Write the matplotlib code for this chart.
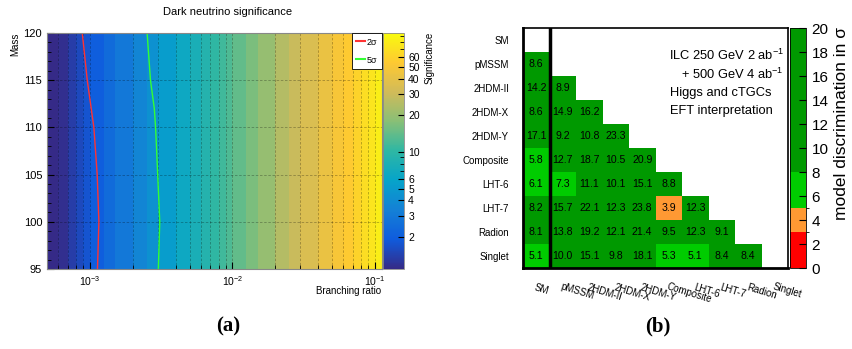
import numpy as np
import matplotlib
matplotlib.use("Agg")
import matplotlib.pyplot as plt
from matplotlib.colors import LinearSegmentedColormap, LogNorm, ListedColormap, BoundaryNorm
from matplotlib.ticker import MultipleLocator, FixedLocator, FixedFormatter, NullFormatter, LogLocator

plt.rcParams['font.family'] = ['Liberation Sans', 'DejaVu Sans']
plt.rcParams['mathtext.fontset'] = 'custom'
plt.rcParams['mathtext.rm'] = 'Liberation Sans'
plt.rcParams['mathtext.it'] = 'Liberation Sans:italic'

# ---- panel (a) data: significance per branching-ratio bin
br_edges = [5e-4, 6e-4, 7e-4, 8e-4, 9e-4, 1e-3, 1.25e-3, 1.5e-3, 2e-3, 2.5e-3, 3e-3,
            4e-3, 5e-3, 6e-3, 7e-3, 8e-3, 9e-3, 1e-2, 1.25e-2, 1.5e-2, 2e-2, 2.5e-2,
            3e-2, 4e-2, 5e-2, 6e-2, 7e-2, 8e-2, 9e-2, 1e-1, 1.12e-1]
signif = [1.1, 1.15, 1.35, 1.55, 1.75, 2.0, 2.4, 2.9, 3.6, 4.4, 5.3, 6.5, 7.8, 9.0,
          10.2, 11.3, 12.4, 14.0, 16.5, 20.0, 25.0, 29.0, 35.0, 42.0, 49.0, 55.0,
          61.0, 68.0, 74.0, 82.0]
mass_edges = [95, 120]

# contour lines
mass_2s = [95, 100, 105, 110, 115, 120]
br_2s = [1.13e-3, 1.156e-3, 1.125e-3, 1.066e-3, 9.58e-4, 8.84e-4]
mass_5s = [95, 100, 105, 110, 112, 115, 120]
br_5s = [3.02e-3, 3.09e-3, 2.99e-3, 2.89e-3, 2.83e-3, 2.66e-3, 2.52e-3]

# ---- panel (b) data: model discrimination matrix
models = ["SM", "pMSSM", "2HDM-II", "2HDM-X", "2HDM-Y", "Composite",
          "LHT-6", "LHT-7", "Radion", "Singlet"]
disc_rows = [
    [],
    [8.6],
    [14.2, 8.9],
    [8.6, 14.9, 16.2],
    [17.1, 9.2, 10.8, 23.3],
    [5.8, 12.7, 18.7, 10.5, 20.9],
    [6.1, 7.3, 11.1, 10.1, 15.1, 8.8],
    [8.2, 15.7, 22.1, 12.3, 23.8, 3.9, 12.3],
    [8.1, 13.8, 19.2, 12.1, 21.4, 9.5, 12.3, 9.1],
    [5.1, 10.0, 15.1, 9.8, 18.1, 5.3, 5.1, 8.4, 8.4],
]

W, H = 852, 349
fig = plt.figure(figsize=(W / 100, H / 100), dpi=100)


def rect(x0, y0, x1, y1):
    return [x0 / W, 1 - y1 / H, (x1 - x0) / W, (y1 - y0) / H]


# ROOT kBird palette
stops = [0.0, 0.125, 0.25, 0.375, 0.5, 0.625, 0.75, 0.875, 1.0]
red = [0.2082, 0.0592, 0.0780, 0.0232, 0.1802, 0.5301, 0.8186, 0.9956, 0.9764]
green = [0.1664, 0.3599, 0.5041, 0.6419, 0.7178, 0.7492, 0.7328, 0.7862, 0.9832]
blue = [0.5293, 0.8684, 0.8385, 0.7914, 0.6425, 0.4662, 0.3499, 0.1968, 0.0539]
bird = LinearSegmentedColormap.from_list("bird", list(zip(stops, zip(red, green, blue))))

# ================= panel (a)
ax1 = fig.add_axes(rect(47, 33, 382, 269))
Z = np.tile(np.array(signif), (len(mass_edges) - 1, 1))
norm = LogNorm(vmin=1.09, vmax=95)
mesh = ax1.pcolormesh(br_edges, mass_edges, Z, cmap=bird, norm=norm, shading='flat')
ax1.set_xscale('log')
ax1.set_xlim(br_edges[0], br_edges[-1])
ax1.set_ylim(95, 120)
ax1.plot(br_2s, mass_2s, color='#ff3333', lw=1.0)
ax1.plot(br_5s, mass_5s, color='#33ff33', lw=1.0)
ax1.grid(which='both', axis='x', color='k', alpha=0.3, lw=0.6, ls=(0, (3, 2)))
ax1.grid(which='major', axis='y', color='k', alpha=0.3, lw=0.6, ls=(0, (3, 2)))
ax1.yaxis.set_major_locator(MultipleLocator(5))
ax1.yaxis.set_minor_locator(MultipleLocator(1))
ax1.xaxis.set_minor_locator(LogLocator(base=10, subs=np.arange(2, 10)))
ax1.xaxis.set_minor_formatter(NullFormatter())
ax1.tick_params(which='both', direction='in', labelsize=8, top=False, right=False)
ax1.tick_params(which='major', length=5)
ax1.tick_params(which='minor', length=3)
ax1.tick_params(axis='x', labelsize=7.5, pad=4)
for s in ax1.spines.values():
    s.set_color('#888888')
    s.set_linewidth(0.8)

leg = ax1.legend([plt.Line2D([], [], color='#ff3333', lw=1.5), plt.Line2D([], [], color='#33ff33', lw=1.5)],
                 ['2σ', '5σ'], loc='upper right', fontsize=6.5, handlelength=1.0, handletextpad=0.2,
                 borderaxespad=0.0, frameon=True, fancybox=False, labelspacing=1.0, borderpad=0.5)
leg.get_frame().set_edgecolor('black')
leg.get_frame().set_linewidth(0.6)
leg.get_frame().set_alpha(1)

cax1 = fig.add_axes(rect(383, 33, 404, 269))
cb1 = fig.colorbar(mesh, cax=cax1)
cb1.outline.set_edgecolor('#888888')
cb1.outline.set_linewidth(0.6)
cax1.yaxis.set_major_locator(FixedLocator([2, 3, 4, 5, 6, 10, 20, 30, 40, 50, 60]))
cax1.yaxis.set_major_formatter(FixedFormatter(['2', '3', '4', '5', '6', '10', '20', '30', '40', '50', '60']))
cax1.yaxis.set_minor_locator(FixedLocator([7, 8, 9, 70, 80, 90]))
cax1.yaxis.set_minor_formatter(NullFormatter())
cax1.tick_params(which='both', direction='in', labelsize=7.5, right=True, left=False, pad=3)
cax1.tick_params(which='major', length=4)
cax1.tick_params(which='minor', length=3)

fig.text(228 / W, 1 - 12 / H, 'Dark neutrino significance', ha='center', va='center', fontsize=8)
fig.text(15 / W, 1 - 33 / H, 'Mass', rotation=90, ha='center', va='top', fontsize=7)
fig.text(381 / W, 1 - 291 / H, 'Branching ratio', ha='right', va='center', fontsize=7)
fig.text(430 / W, 1 - 32 / H, 'Significance', rotation=90, ha='center', va='top', fontsize=7)
fig.text(228 / W, 1 - 326 / H, '(a)', ha='center', va='center', fontsize=15,
         fontweight='bold', family='Liberation Serif')

# ================= panel (b)
n = len(models)
M = np.full((n, n), np.nan)
for i, row in enumerate(disc_rows):
    for j, v in enumerate(row):
        M[i, j] = v

ax2 = fig.add_axes(rect(523, 28, 788, 268))
cmap2 = ListedColormap(['#ff0000', '#ff9933', '#00cc00', '#009900'])
bnorm = BoundaryNorm([0, 3, 5, 8, 20], cmap2.N)
im = ax2.pcolormesh(np.arange(n + 1), np.arange(n + 1), np.ma.masked_invalid(M),
                    cmap=cmap2, norm=bnorm)
ax2.set_xlim(0, n)
ax2.set_ylim(n, 0)
for i, row in enumerate(disc_rows):
    for j, v in enumerate(row):
        ax2.text(j + 0.5, i + 0.52, f'{v:.1f}', ha='center', va='center', fontsize=7.6)
ax2.axvline(1, color='black', lw=2.5)
ax2.set_yticks(np.arange(n) + 0.5)
ax2.set_yticklabels(models, fontsize=7)
ax2.set_xticks(np.arange(n) + 0.5)
ax2.set_xticklabels(models, fontsize=7, rotation=-17, ha='left', va='top', rotation_mode='anchor')
ax2.tick_params(length=0, pad=10)
ax2.tick_params(axis='x', pad=10)
for s in ax2.spines.values():
    s.set_linewidth(1.2)
ax2.spines['bottom'].set_linewidth(2)
ax2.spines['left'].set_linewidth(2)

ax2.text(0.985, 0.885, 'ILC 250 GeV 2 ab$^{-1}$', transform=ax2.transAxes, ha='right', va='center', fontsize=9.3)
ax2.text(0.985, 0.805, '+ 500 GeV 4 ab$^{-1}$', transform=ax2.transAxes, ha='right', va='center', fontsize=9.3)
ax2.text(0.555, 0.73, 'Higgs and cTGCs', transform=ax2.transAxes, ha='left', va='center', fontsize=9.3)
ax2.text(0.555, 0.655, 'EFT interpretation', transform=ax2.transAxes, ha='left', va='center', fontsize=9.3)

cax2 = fig.add_axes(rect(790, 28, 806, 268))
cb2 = fig.colorbar(im, cax=cax2, ticks=np.arange(0, 21, 2), spacing='proportional')
cb2.outline.set_linewidth(0.6)
cax2.tick_params(direction='in', length=5, labelsize=11, pad=4)
fig.text(841 / W, 1 - 27 / H, 'model discrimination in σ', rotation=90, ha='center', va='top', fontsize=12.5)

fig.text(658 / W, 1 - 326 / H, '(b)', ha='center', va='center', fontsize=15,
         fontweight='bold', family='Liberation Serif')

fig.savefig('out.png', dpi=100)
